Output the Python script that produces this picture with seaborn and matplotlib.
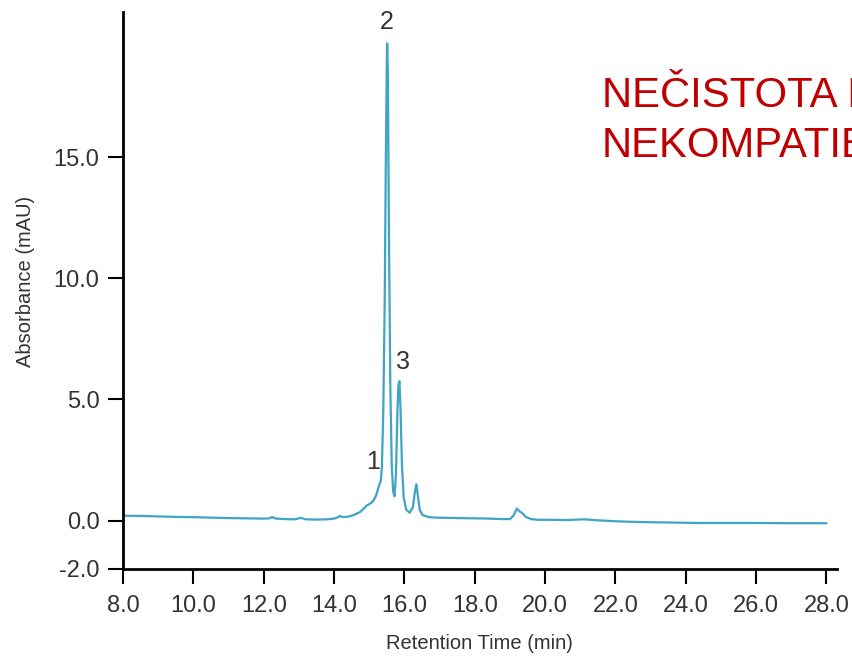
import matplotlib
matplotlib.use('Agg')
import matplotlib.pyplot as plt
import pandas as pd
import seaborn as sns

# chromatogram trace
retention_time = [
    8.0, 8.5, 9.0, 9.5, 10.0, 10.5, 11.0, 11.5, 12.0, 12.15, 12.24, 12.35, 12.6,
    12.9, 13.05, 13.2, 13.5, 13.8, 14.0, 14.1, 14.17, 14.25, 14.4, 14.55, 14.74,
    14.85, 14.93, 15.05, 15.12, 15.2, 15.28, 15.33, 15.36, 15.40, 15.44, 15.47,
    15.50, 15.51, 15.53, 15.56, 15.60, 15.64, 15.68, 15.72, 15.76, 15.80, 15.83,
    15.86, 15.89, 15.93, 15.98, 16.05, 16.15, 16.24, 16.30, 16.34, 16.38, 16.44,
    16.52, 16.7, 16.9, 17.2, 17.6, 18.0, 18.4, 18.8, 19.0, 19.1, 19.2, 19.27,
    19.34, 19.45, 19.6, 19.8, 20.2, 20.6, 21.1, 21.5, 22.0, 22.4, 23.0, 23.5,
    24.3, 25.0, 26.0, 27.0, 28.0,
]
absorbance = [
    0.20, 0.19, 0.17, 0.15, 0.14, 0.12, 0.10, 0.09, 0.08, 0.09, 0.14, 0.08, 0.06,
    0.05, 0.11, 0.05, 0.04, 0.05, 0.08, 0.13, 0.19, 0.14, 0.16, 0.22, 0.35,
    0.50, 0.62, 0.72, 0.82, 1.05, 1.45, 1.65, 2.2, 4.5, 9.0, 14.5,
    19.0, 19.7, 18.5, 12.0, 5.5, 2.3, 1.2, 1.0, 1.9, 4.4, 5.6,
    5.75, 4.6, 2.3, 0.95, 0.45, 0.32, 0.55, 1.2, 1.5, 1.05, 0.42,
    0.22, 0.14, 0.12, 0.11, 0.10, 0.09, 0.08, 0.06, 0.06, 0.20, 0.50, 0.38,
    0.32, 0.15, 0.06, 0.03, 0.03, 0.02, 0.05, 0.01, -0.03, -0.05, -0.07, -0.08,
    -0.10, -0.10, -0.10, -0.11, -0.11,
]

peak_names = ['1', '2', '3']
peak_label_x = [15.11, 15.51, 15.97]
peak_label_y = [2.42, 20.6, 6.56]

x_ticks = [8.0, 10.0, 12.0, 14.0, 16.0, 18.0, 20.0, 22.0, 24.0, 26.0, 28.0]
y_ticks = [-2.0, 0.0, 5.0, 10.0, 15.0]

df = pd.DataFrame({'time': retention_time, 'abs': absorbance})

sns.set_style('white')
plt.rcParams['font.family'] = ['Liberation Sans', 'DejaVu Sans']

fig = plt.figure(figsize=(8.52, 6.58), dpi=100)
ax = fig.add_axes([0.1444, 0.1353, 0.8380, 0.8465])

sns.lineplot(data=df, x='time', y='abs', ax=ax, color='#40a4c4', linewidth=1.6)

ax.set_xlim(8.0, 28.3)
ax.set_ylim(-2.0, 21.0)
ax.set_xticks(x_ticks)
ax.set_yticks(y_ticks)
ax.set_xticklabels(['%.1f' % v for v in x_ticks])
ax.set_yticklabels(['%.1f' % v for v in y_ticks])

for side in ['top', 'right']:
    ax.spines[side].set_visible(False)
for side in ['left', 'bottom']:
    ax.spines[side].set_color('black')
    ax.spines[side].set_linewidth(2)

ax.tick_params(axis='both', direction='out', length=11, width=1.5, color='black',
               labelsize=17, labelcolor='#333333', bottom=True, left=True)
ax.tick_params(axis='x', pad=8)
ax.tick_params(axis='y', pad=6)

ax.set_xlabel('Retention Time (min)', fontsize=14.5, color='#333333')
ax.set_ylabel('Absorbance (mAU)', fontsize=14.5, color='#333333')
ax.xaxis.set_label_coords(0.499, -0.117)
ax.yaxis.set_label_coords(-0.137, 0.517)
ax.yaxis.label.set_va('center')

for name, px, py in zip(peak_names, peak_label_x, peak_label_y):
    ax.text(px, py, name, ha='center', va='center', fontsize=18, color='#333333')

fig.text(602 / 852, 1 - 107 / 658, 'NEČISTOTA I', fontsize=30.2, color='#c00000',
         ha='left', va='baseline')
fig.text(602 / 852, 1 - 157 / 658, 'NEKOMPATIBILITA', fontsize=30.2, color='#c00000',
         ha='left', va='baseline')

fig.savefig('out.png', dpi=100)
